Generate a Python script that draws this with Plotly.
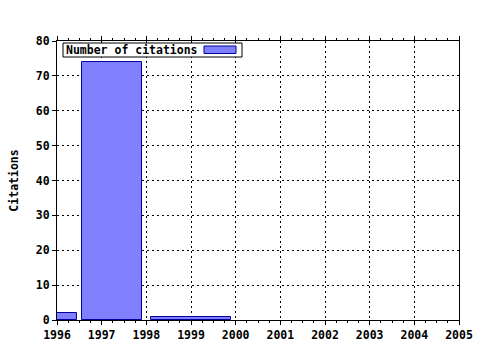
import plotly.graph_objects as go

# Data (x positions in years)
bar_left = [1995.55, 1996.56, 1998.10]
bar_right = [1996.45, 1997.90, 1999.89]
citations = [2, 74, 1]
series_name = "Number of citations"
years = list(range(1996, 2006))
y_ticks = list(range(0, 90, 10))

centers = [(a + b) / 2 for a, b in zip(bar_left, bar_right)]
widths = [b - a for a, b in zip(bar_left, bar_right)]

FONT = "DejaVu Sans Mono"

fig = go.Figure()
fig.add_trace(go.Bar(
    x=centers, y=citations, width=widths, name=series_name,
    marker=dict(color="#8080ff", line=dict(color="#0000a0", width=1)),
    showlegend=False,
))

fig.update_layout(
    width=480, height=350,
    margin=dict(l=57, r=21, t=41, b=30),
    paper_bgcolor="white", plot_bgcolor="white",
    font=dict(family=FONT, size=11, color="black"),
    bargap=0,
)
fig.update_xaxes(
    range=[1996, 2005], tickvals=years, ticktext=[f"<b>{y}</b>" for y in years],
    showline=True, linecolor="black", linewidth=1, mirror="ticks",
    ticks="outside", ticklen=4, tickcolor="black",
    showgrid=True, gridcolor="black", griddash="2px,3px", gridwidth=1,
    minor=dict(dtick=0.25, tick0=1996, ticks="outside", ticklen=2, tickcolor="black", showgrid=False),
    zeroline=False, tickfont=dict(family=FONT, size=11.5), automargin=False,
)
fig.update_yaxes(
    range=[0, 80], tickvals=y_ticks, ticktext=[f"<b>{v}</b>" for v in y_ticks],
    showline=True, linecolor="black", linewidth=1, mirror=True,
    ticks="outside", ticklen=4, tickcolor="black",
    showgrid=True, gridcolor="black", griddash="2px,3px", gridwidth=1,
    zeroline=False, tickfont=dict(family=FONT, size=11.5), automargin=False,
    title=dict(text="<b>Citations</b>", font=dict(family=FONT, size=11.5), standoff=14),
)

# Legend box drawn like the original (text then wide swatch)
def px_x(p):
    return (p - 57) / 402
def px_y(p):
    return 1 - (p - 41) / 279

fig.add_shape(type="rect", xref="paper", yref="paper",
              x0=px_x(63), x1=px_x(242), y0=px_y(57), y1=px_y(43),
              line=dict(color="black", width=1), fillcolor="white", layer="above")
fig.add_shape(type="rect", xref="paper", yref="paper",
              x0=px_x(204), x1=px_x(236), y0=px_y(53.5), y1=px_y(46),
              line=dict(color="#0000a0", width=1), fillcolor="#8080ff", layer="above")
fig.add_annotation(xref="paper", yref="paper", x=px_x(64), y=px_y(50),
                   xanchor="left", yanchor="middle", showarrow=False,
                   text=f"<b>{series_name}</b>", font=dict(family=FONT, size=11.5, color="black"))

fig.write_html("out.html")
